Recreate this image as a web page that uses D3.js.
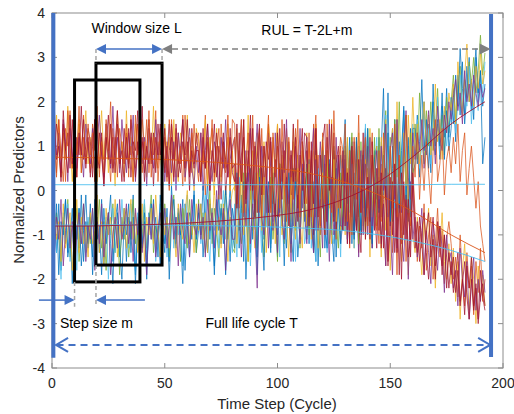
<!DOCTYPE html>
<html><head><meta charset="utf-8">
<script src="https://cdn.jsdelivr.net/npm/d3@7"></script>
<style>body{margin:0;background:#fff}svg{display:block;font-family:"Liberation Sans",Arial,sans-serif}</style>
</head><body><svg id="c" width="514" height="414"></svg>
<script>
const xTicks=[0,50,100,150,200];
const yTicks=[-4,-3,-2,-1,0,1,2,3,4];
const colors={blue:"#0072BD",orange:"#D95319",yellow:"#EDB120",purple:"#7E2F8E",green:"#77AC30",cyan:"#4DBEEE",darkred:"#A2142F"};
const serA=[-0.5,-1.4,-0.3,-1.8,-0.9,-0.2,-1.5,-1.1,-0.4,-2.0,-0.8,-1.3,-0.1,-1.6,-0.7,-1.2,
-0.3,-1.9,-1.0,-0.6,-1.4,-0.2,-1.7,-0.9,-0.5,-1.2,-2.1,-0.7,-0.3,-1.5,-1.0,-0.4,
-1.6,-0.6,-1.1,-0.1,-1.8,-0.9,-0.4,-1.3,-0.7,-2.0,-0.5,-1.0,-0.2,-1.4,-0.8,-1.7,
-0.3,-1.2,-0.6,-1.6,0.1,-0.9,-1.3,-0.4,-1.0,-0.2,-1.8,-0.7,-0.5,-1.1,0.0,-1.4,
-0.9,-0.3,-1.5,-0.6,0.2,-1.1,-0.4,-1.7,-0.8,-0.1,-1.2,-0.5,-1.9,-0.7,0.1,-1.0,
-1.3,0.3,-0.9,-0.1,-1.6,0.4,-0.7,-1.4,0.1,-0.5,-1.9,-0.2,0.5,-1.1,-0.6,0.2,
-1.2,0.4,-0.3,-1.5,0.6,-0.8,-0.1,-1.3,0.3,-0.9,-1.6,0.5,-0.4,-1.1,0.2,-0.7,
0.6,-1.2,0.2,-0.9,-1.6,0.4,-0.5,0.9,-1.3,-0.2,0.7,-1.0,0.3,-1.5,-0.1,0.8,
-0.9,0.7,-0.3,1.2,-1.2,0.4,-0.6,1.0,-1.0,0.2,1.4,-0.8,0.5,-1.3,0.9,-0.2,
1.2,-0.6,0.8,-0.2,2.2,-0.8,0.5,1.6,-0.5,1.1,-0.1,1.8,0.2,-0.7,1.4,0.4,
0.6,1.7,0.3,1.3,2.0,0.8,1.5,0.4,2.4,1.0,1.6,0.7,1.9,1.2,2.3,0.9,
1.4,2.3,1.1,2.6,1.7,2.9,1.5,2.2,3.0,1.8,2.5,3.2,2.0,2.7,1.9,2.4];
const serB=[1.3,0.4,1.6,0.8,0.2,1.4,1.0,1.8,0.5,1.2,0.3,1.5,0.9,1.7,0.6,1.1,
0.4,1.5,0.9,1.9,0.3,1.2,0.7,1.6,1.0,0.2,1.4,0.8,1.8,0.5,1.1,0.6,
1.3,0.3,1.7,0.9,0.5,1.5,0.1,1.1,0.7,1.6,0.4,1.2,0.8,1.8,0.2,1.0,
1.4,0.5,1.1,0.0,1.6,0.8,0.3,1.3,0.6,1.7,0.2,0.9,1.2,0.4,1.5,0.7,
0.2,1.3,0.6,1.7,0.1,0.9,1.4,0.3,1.0,-0.2,1.5,0.7,0.4,1.2,0.0,1.6,
1.5,-0.3,0.9,0.2,1.6,-0.5,0.7,1.3,-0.2,1.1,0.4,-0.6,1.4,0.0,0.8,1.7,
-0.4,1.2,0.3,1.5,-0.6,0.8,-0.1,1.4,0.5,-0.7,1.1,0.2,1.6,-0.3,0.9,0.1,
-0.8,1.1,0.0,1.5,-0.6,0.8,-1.0,1.3,0.2,-0.7,1.6,-0.3,0.9,-1.1,0.5,1.2,
0.9,-0.9,0.5,-1.3,1.2,-0.2,0.7,-1.4,0.3,-0.8,1.3,-0.5,0.1,-1.2,0.8,-0.4,
-1.2,0.6,-0.8,-1.7,0.4,-0.3,-1.4,0.3,-1.9,0.7,-0.9,0.1,-1.6,-0.5,-1.1,0.5,
-0.5,-1.6,-0.8,-1.3,-0.3,-1.8,-1.0,-0.6,-2.0,-1.2,-0.4,-1.5,-0.9,-2.1,-1.1,-0.7,
-1.2,-2.0,-1.5,-2.4,-1.0,-1.9,-2.6,-1.4,-2.2,-1.7,-2.8,-1.6,-2.3,-1.3,-2.5,-2.0];
const serC=[0.5,1.7,0.9,0.3,1.4,0.7,1.9,1.1,0.2,1.3,0.8,1.6,0.4,1.0,1.8,0.6,
1.2,0.5,1.6,0.2,1.0,1.8,0.7,1.3,0.4,1.5,0.9,0.1,1.7,0.6,1.1,0.3,
1.8,0.6,1.2,0.2,1.5,0.9,0.4,1.6,1.0,0.3,1.4,0.7,1.9,0.5,1.1,0.8,
0.3,1.5,0.8,1.2,0.1,1.6,0.6,0.2,1.3,0.9,0.4,1.7,0.5,1.0,0.0,1.4,
1.1,0.3,0.8,1.6,0.1,1.2,0.5,-0.1,1.4,0.7,0.2,1.0,0.6,1.5,0.0,0.9,
0.0,1.4,0.6,-0.5,1.2,0.3,1.7,-0.2,0.9,-0.6,1.3,0.5,-0.3,1.1,0.1,1.5,
1.0,-0.5,0.7,1.5,-0.2,0.9,-0.7,1.2,0.3,-0.4,1.4,0.0,0.8,-0.6,1.1,0.4,
1.3,-0.6,0.7,-1.0,1.5,-0.2,0.5,1.2,-0.9,0.9,-0.4,1.6,-0.7,0.8,0.1,-1.1,
0.6,-1.0,1.1,-0.4,0.3,-1.3,1.2,-0.6,0.0,0.9,-1.1,0.5,-1.5,0.8,-0.3,0.2,
-0.1,-1.5,0.5,-0.9,-0.2,-1.8,-0.6,0.6,-1.2,0.2,-1.6,-0.8,0.3,-1.9,-0.4,-1.0,
-1.4,-0.6,-1.2,-1.9,-0.7,-1.1,-0.4,-1.7,-1.0,-2.2,-0.8,-1.3,-0.5,-1.6,-2.0,-1.2,
-2.1,-1.3,-2.5,-1.6,-2.9,-1.8,-1.2,-2.3,-2.7,-1.5,-2.0,-3.0,-1.7,-2.4,-1.9,-2.6];
const serD=[1.9,0.8,1.3,0.4,1.6,1.1,0.2,1.4,0.7,1.8,0.5,1.2,0.9,0.3,1.5,1.0,
0.6,1.4,0.2,1.1,1.7,0.8,0.3,1.5,1.0,0.5,1.9,0.7,1.2,0.4,1.6,0.9,
0.4,1.3,0.8,1.7,0.2,1.0,1.5,0.6,1.2,0.1,1.4,0.9,0.5,1.6,0.7,1.1,
1.2,0.2,0.9,1.5,0.4,1.1,0.0,1.3,0.7,1.6,0.3,0.8,1.4,0.5,0.1,1.0,
0.4,1.3,0.0,0.9,1.5,0.6,0.2,1.1,0.8,-0.1,1.2,0.5,1.6,0.3,0.7,1.0,
1.2,-0.2,0.6,1.6,-0.6,0.9,0.2,1.4,-0.4,0.7,1.5,-0.1,1.0,0.3,-0.5,1.3,
0.5,-0.7,1.3,0.1,-0.5,1.1,0.4,1.6,-0.3,0.8,-0.8,1.0,0.2,1.4,-0.4,0.6,
1.2,-0.7,0.6,1.4,-0.9,0.2,1.1,-0.4,0.8,-1.0,1.5,0.0,-0.6,1.2,-0.2,-1.2,
-0.7,0.9,-1.2,0.4,1.1,-0.9,0.2,-1.5,0.7,-0.4,1.3,-1.0,0.5,-1.3,0.3,-0.6,
0.5,-1.2,-0.3,-1.7,0.3,-0.9,-1.9,0.1,-1.3,0.6,-1.0,-1.6,-0.2,-2.0,0.2,-1.1,
-0.6,-1.5,-1.1,-0.4,-1.9,-0.9,-1.4,-2.1,-0.7,-1.2,-1.8,-0.8,-1.3,-2.3,-1.0,-1.6,
-1.4,-2.2,-1.8,-2.6,-1.3,-2.0,-2.4,-1.6,-2.9,-2.1,-1.5,-2.7,-2.0,-2.5,-1.8,-2.3];
const serE=[-1.3,-0.5,-1.0,-1.7,-0.6,-1.2,-0.2,-1.5,-0.8,-1.1,-0.4,-1.6,-0.9,-0.3,-1.4,-0.7,
-1.2,-0.4,-1.6,-0.9,-0.2,-1.3,-0.7,-1.8,-0.5,-1.0,-0.3,-1.4,-0.8,-1.9,-0.6,-1.1,
-0.4,-1.5,-0.9,-0.2,-1.2,-0.6,-1.7,-1.0,-0.3,-1.3,-0.7,-0.1,-1.4,-0.8,-1.1,-0.5,
-1.2,-0.3,-0.9,-1.5,-0.5,-0.1,-1.1,-0.6,-1.6,-0.4,-0.8,-1.3,-0.2,-1.0,-0.7,-1.4,
-0.2,-1.0,-0.5,-1.4,-0.8,0.0,-1.2,-0.4,-0.9,-1.5,-0.3,-0.7,0.1,-1.1,-0.6,-1.3,
-1.4,0.2,-0.7,-1.2,0.4,-0.3,-1.6,0.1,-0.9,-0.2,-1.3,0.5,-0.6,-1.5,0.0,-0.8,
0.3,-1.1,-0.4,-1.6,0.6,-0.7,-1.2,0.2,-0.5,-1.4,0.5,-0.9,-0.1,-1.3,0.4,-0.6,
0.5,-1.0,0.1,-1.4,0.9,-0.6,-1.5,0.3,-0.8,0.7,-1.2,-0.2,1.0,-0.7,-1.3,0.4,
-0.6,1.0,-1.1,0.5,1.3,-0.7,0.6,-1.2,1.1,-0.1,-0.9,1.4,0.2,-0.5,1.2,-0.8,
1.4,-0.4,0.9,1.8,-0.2,1.2,-0.7,1.6,0.3,2.0,-0.3,0.8,1.7,-0.5,1.3,0.4,
1.5,0.7,2.2,1.2,0.6,1.8,1.0,2.0,0.9,1.4,2.3,1.1,1.7,0.8,2.1,1.3,
2.0,2.6,1.6,2.3,2.8,1.8,2.5,2.1,2.9,2.4,3.0,2.2,2.7,3.5,2.6,3.1];
const serF=[-0.6,-1.4,-0.9,-2.0,-0.5,-1.1,-0.3,-1.6,-1.0,-0.7,-1.8,-0.4,-1.2,-0.8,-1.5,-0.6,
-1.0,-0.5,-1.7,-0.8,-1.3,-0.3,-1.1,-0.6,-2.0,-0.9,-0.4,-1.4,-0.7,-1.2,-0.2,-1.0,
-0.6,-1.3,-0.3,-1.0,-1.9,-0.5,-1.2,-0.8,-0.2,-1.5,-0.7,-1.1,-0.4,-1.6,-0.9,-0.3,
-1.1,-0.5,-1.5,-0.8,-0.2,-1.3,-0.6,-1.0,-0.4,-1.7,-0.9,-0.1,-1.2,-0.7,-0.3,-1.1,
-0.4,-1.2,-0.7,-0.1,-1.0,-1.6,-0.5,-0.9,-0.3,-1.3,-0.6,0.0,-1.1,-0.4,-0.8,-1.4,
-0.3,-1.5,0.3,-0.9,-1.2,0.1,-0.6,-1.7,-0.2,0.4,-1.0,-0.5,-1.4,0.2,-0.8,-0.1,
-1.3,0.2,-0.8,-0.2,-1.5,0.5,-0.6,-1.1,0.3,-0.9,-0.3,-1.6,0.1,-0.7,0.4,-1.2,
-0.9,0.6,-1.3,0.2,-1.6,0.5,-0.7,0.9,-0.4,-1.4,0.4,-0.8,-1.2,0.7,-0.3,-1.5,
0.7,-0.9,1.2,-0.5,0.6,-1.3,0.3,1.0,-1.0,0.2,1.5,-0.6,0.8,-1.1,0.4,1.2,
-0.3,1.1,-0.1,1.7,-0.6,0.9,1.4,-0.4,1.2,-0.5,0.6,1.8,-0.1,1.0,-0.6,1.5,
0.8,1.6,0.5,1.2,1.9,0.9,1.4,0.6,1.7,1.1,2.1,0.8,1.3,1.8,1.0,1.5,
1.6,2.2,1.3,2.0,2.6,1.7,2.3,1.9,2.8,1.5,2.4,2.1,1.8,2.6,2.2,2.9];
const serG=[0.6,1.5,1.1,0.3,1.8,0.9,1.3,0.5,1.6,0.2,1.2,0.8,1.9,0.7,1.0,1.4,
1.1,0.3,1.6,0.8,0.5,1.3,0.1,1.0,1.7,0.6,1.2,0.4,1.5,0.9,0.2,1.4,
0.7,1.4,0.3,1.1,0.9,1.8,0.5,1.2,0.2,1.0,1.6,0.6,1.3,0.4,1.5,0.8,
1.3,0.4,1.0,0.1,1.5,0.7,1.2,0.3,0.9,1.6,0.5,1.1,0.0,1.4,0.6,0.9,
0.9,0.2,1.4,0.5,1.1,0.0,0.8,1.5,0.3,1.0,0.6,1.3,-0.1,0.7,1.2,0.4,
0.2,1.5,-0.4,0.8,1.2,-0.2,0.6,1.7,0.0,1.0,-0.5,1.3,0.4,-0.1,1.1,0.7,
1.2,-0.3,0.7,-0.6,1.4,0.2,0.9,-0.5,1.1,-0.1,1.5,0.3,-0.7,0.8,0.0,1.3,
1.2,-0.6,0.9,-1.0,1.4,-0.1,-0.8,1.1,1.5,-0.7,0.6,-0.4,1.3,-0.9,0.8,-0.2,
-0.9,0.7,-1.2,0.9,-0.2,-1.0,1.1,-0.6,-1.4,0.6,-0.7,1.0,-1.1,0.8,-0.3,-1.3,
0.3,-1.3,-0.2,0.5,-1.6,-0.8,0.2,-1.4,-0.3,-1.9,0.4,-1.0,-0.1,-1.5,-1.1,0.1,
-1.3,-0.7,-1.6,-0.9,-0.5,-1.4,-2.0,-1.1,-0.6,-1.7,-1.2,-0.8,-1.9,-1.0,-1.5,-2.2,
-1.6,-2.3,-1.9,-1.4,-2.5,-2.0,-2.8,-1.7,-2.2,-1.5,-2.6,-2.1,-2.9,-1.8,-2.4,-2.7];
const serH=[-1.2,-0.3,-1.9,-0.7,-1.0,-0.2,-1.4,-0.8,-2.1,-0.5,-1.1,-0.4,-1.7,-0.9,-0.1,-1.3,
-0.6,-1.5,-0.2,-1.1,-0.8,-1.9,-0.4,-1.2,-0.7,-0.1,-1.6,-0.9,-0.5,-1.3,-2.0,-0.7,
-1.0,-0.3,-1.4,-0.6,-2.1,-0.9,-0.2,-1.2,-0.5,-1.7,-0.8,-0.3,-1.1,-0.6,-1.5,-0.1,
-0.9,-1.4,-0.4,-2.0,-0.7,-0.2,-1.2,-0.5,-1.0,-2.1,-0.3,-0.8,-1.5,-0.6,-0.1,-1.1,
-0.5,-1.0,0.1,-0.8,-1.4,-0.3,-0.7,-1.9,-0.2,-0.9,-0.4,-1.2,0.0,-0.6,-1.6,-0.4,
-0.8,0.4,-1.3,-0.4,0.2,-2.0,-0.6,0.5,-1.1,-0.2,-1.5,0.3,-0.9,-1.8,0.1,-0.5,
-1.4,0.3,-0.6,-1.0,0.6,-0.3,-1.7,-0.1,0.4,-1.2,-0.5,0.2,-1.5,-0.8,0.5,-0.2,
-1.1,0.7,-0.5,-1.4,0.4,-1.7,-0.2,0.9,-0.8,-1.3,0.6,-0.9,-1.6,0.5,-0.4,-1.2,
0.6,1.6,-0.8,0.9,-0.2,-1.1,1.2,0.0,-0.9,0.8,-0.6,1.4,-0.3,-1.2,0.7,1.0,
-0.5,0.9,2.3,-0.1,1.3,-0.7,1.0,0.1,1.6,-0.4,0.9,1.9,-0.2,1.2,-0.6,1.4,
1.4,0.6,1.1,2.5,0.9,1.6,0.5,1.3,2.0,0.8,1.5,1.0,2.2,0.7,1.8,1.2,
2.1,1.5,2.6,1.9,3.2,2.3,1.7,2.8,2.0,2.5,1.6,3.0,2.2,2.7,0.6,1.2];
const serI=[-0.4,-1.1,-0.7,-1.6,-0.3,-1.3,-0.9,-0.5,-1.8,-1.0,-0.2,-1.4,-0.6,-1.2,-0.8,-1.5,
-0.5,-1.2,-0.9,-0.1,-1.4,-0.7,-1.7,-0.4,-1.0,-0.6,-1.3,-0.2,-1.5,-0.8,-1.1,-0.4,
-1.3,-0.7,-0.2,-1.1,-0.5,-1.4,-0.9,-0.3,-1.6,-0.6,-1.0,-0.4,-1.2,-0.1,-0.9,-1.5,
-0.4,-1.0,-0.6,-1.3,-0.2,-0.9,-1.5,-0.3,-0.8,-1.1,-0.5,0.0,-1.2,-0.7,-1.4,-0.3,
-0.9,-0.3,-1.1,-0.5,-1.4,-0.2,-0.8,0.1,-1.0,-0.6,-1.3,-0.3,-0.7,-1.6,-0.4,0.0,
0.1,-1.2,-0.4,0.5,-1.0,-0.3,-1.6,0.2,-0.7,-1.3,0.4,-0.1,-0.9,0.3,-1.4,-0.5,
-0.8,0.5,-1.2,-0.2,0.6,-1.0,0.1,-0.6,-1.5,0.3,-0.4,-1.1,0.5,-0.7,-1.3,0.2,
-0.8,0.6,-1.1,-0.3,0.8,-1.3,-0.5,0.4,-1.0,0.9,-0.2,-1.2,0.7,-0.7,0.3,-0.9,
0.5,-0.7,1.2,-1.0,0.0,0.9,-0.8,1.3,-0.2,-0.9,0.7,-0.4,1.4,-0.6,0.4,1.0,
-0.2,1.2,0.2,1.6,-0.5,0.9,1.4,-0.1,2.0,0.4,-0.4,1.3,0.1,1.7,0.6,2.1,
0.9,1.5,0.6,1.3,2.0,1.0,1.7,0.8,1.2,2.4,1.1,1.6,0.7,1.9,1.3,2.2,
1.8,2.4,1.5,2.9,2.1,1.7,2.6,3.3,2.0,2.5,1.9,2.8,2.3,3.1,2.4,2.7];
const serJ=[-1.5,-0.6,-1.1,-0.2,-1.7,-0.9,-0.4,-1.3,-0.7,-1.9,-1.0,-0.5,-1.2,-0.3,-1.6,-0.8,
-1.1,-0.4,-1.8,-0.7,-1.2,-0.3,-1.5,-0.9,-0.5,-1.9,-1.0,-0.6,-1.3,-0.2,-1.1,-0.8,
-0.3,-1.2,-0.7,-1.6,-0.4,-1.0,-0.2,-1.4,-0.8,-1.9,-0.6,-1.1,-0.3,-1.5,-0.9,-0.5,
-1.0,-0.4,-1.3,-0.8,-0.1,-1.1,-0.6,-1.7,-0.3,-0.9,-1.2,-0.5,-1.5,-0.2,-0.8,-1.0,
-0.3,-1.1,-0.6,-1.5,-0.2,-0.9,-0.5,-1.3,0.0,-0.7,-1.0,-0.4,-1.8,-0.6,-0.2,-1.1,
-1.1,0.3,-0.5,-1.5,0.0,-0.8,0.4,-1.2,-0.3,-0.9,-2.2,0.2,-0.6,-1.0,0.5,-1.3,
0.1,-0.9,-0.3,-1.4,0.5,-0.6,-1.1,0.3,-0.2,-1.6,0.4,-0.8,-0.1,-1.2,0.6,-0.5,
-1.2,0.4,-0.7,-1.4,0.7,-0.9,-0.2,-1.3,0.6,-0.5,-1.6,0.3,-1.0,-0.3,0.8,-0.8,
-0.8,0.8,-1.1,0.5,-0.6,1.1,-0.9,0.3,0.9,-1.0,0.6,-0.4,1.2,-0.8,0.2,0.9,
-0.4,1.0,0.0,1.5,-0.6,0.9,1.3,-0.2,1.6,0.2,-0.5,1.1,1.8,0.3,-0.2,1.3,
0.7,1.3,0.9,1.6,0.5,1.1,1.8,1.0,1.4,0.6,1.9,1.2,0.9,1.7,1.3,2.0,
1.6,2.1,2.5,1.8,2.2,1.5,2.7,2.0,2.4,1.9,2.6,2.2,1.9,2.4,2.1,2.3];
const serK=[1.1,0.3,1.6,0.7,1.3,0.2,1.8,0.9,0.5,1.4,0.8,1.9,0.4,1.2,0.6,1.5,
0.8,1.3,0.2,1.7,0.6,1.1,0.4,1.5,0.9,2.0,0.5,1.2,0.3,1.4,1.0,0.6,
1.5,0.6,1.0,0.2,1.7,0.8,1.3,0.4,1.1,0.7,1.8,0.3,1.2,0.9,0.5,1.4,
0.5,1.2,0.2,1.6,0.9,0.3,1.4,0.6,1.0,0.1,1.7,0.8,0.4,1.3,0.7,1.1,
1.3,0.4,0.9,-0.1,1.2,0.7,1.6,0.2,0.8,1.4,0.3,1.0,0.5,1.7,0.1,0.9,
1.2,-0.3,0.8,1.6,-0.5,0.6,1.3,0.0,1.7,-0.2,0.9,1.4,-0.6,1.0,0.3,1.5,
-0.5,1.3,0.4,1.0,-0.4,1.6,0.1,-0.7,1.2,0.5,-0.2,1.4,0.7,-0.6,1.1,0.3,
-0.3,1.3,-0.6,0.9,1.7,-0.1,-0.8,1.1,-0.3,1.5,0.2,-0.5,1.8,0.3,-0.4,1.0,
0.1,1.5,-0.7,0.9,-1.0,1.2,-0.2,1.7,-0.5,0.7,1.2,-0.8,0.5,1.3,-0.4,-0.9,
0.9,-0.7,1.3,-0.1,-1.0,1.0,-0.4,1.5,-0.6,0.8,-1.2,0.5,1.7,-0.2,-0.8,1.0,
0.3,1.3,-0.2,0.8,0.0,1.1,0.4,-0.3,0.9,1.6,0.2,0.6,1.4,-0.1,0.7,1.0,
0.4,1.2,0.6,1.5,0.2,0.9,1.3,-0.1,0.5,1.0,0.3,-0.4,0.2,-0.8,-1.2,-1.6];
const serL=[1.4,0.7,1.0,0.2,1.5,0.9,0.4,1.7,0.6,1.1,0.3,1.3,0.8,1.6,0.5,1.2,
0.3,1.0,1.6,0.5,1.3,0.8,0.1,1.2,0.7,1.5,0.4,1.0,1.8,0.6,0.9,0.2,
1.2,0.5,1.6,0.9,0.3,1.1,0.7,1.9,0.4,1.0,0.6,1.3,0.1,1.2,0.8,1.5,
0.6,1.4,0.3,0.9,1.2,0.2,1.5,0.7,0.4,1.1,0.8,1.6,0.3,0.9,0.5,1.3,
0.8,0.2,1.2,0.5,1.5,0.0,0.9,0.4,1.3,0.6,-0.2,1.1,0.7,0.3,1.4,0.5,
0.6,-0.4,1.3,0.2,1.6,-0.3,0.9,0.1,1.4,-0.6,0.7,1.5,-0.1,1.0,0.4,-0.5,
1.1,0.0,-0.6,1.3,0.4,-0.2,1.5,0.3,-0.8,0.9,0.2,1.2,-0.4,0.7,1.4,-0.3,
0.9,-0.8,1.1,-0.3,1.4,-0.6,0.8,-0.1,-1.0,1.2,0.0,1.5,-0.7,0.6,1.0,-0.4,
0.9,-0.8,0.4,-1.2,1.0,-0.3,-0.9,0.7,-0.5,1.3,-1.1,0.3,-0.7,1.1,-0.9,0.5,
-0.9,0.4,-1.3,0.1,-1.7,0.3,-1.0,0.6,-1.4,-0.3,-2.0,0.2,-1.1,-0.2,-1.5,0.4,
-0.8,-1.4,-0.6,-1.2,-1.9,-0.9,-0.5,-1.5,-1.1,-2.0,-0.7,-1.3,-1.7,-1.0,-2.2,-1.4,
-1.9,-1.5,-2.3,-1.8,-2.6,-2.1,-1.6,-2.4,-2.9,-2.0,-2.7,-2.2,-3.0,-2.4,-2.1,-2.6];
const smoothX=[1,17,33,49,65,81,97,113,129,145,161,177,192];
const smoothCyanFlat=[0.13,0.13,0.13,0.13,0.13,0.13,0.13,0.13,0.13,0.13,0.13,0.14,0.14];
const smoothCyanLow=[-0.78,-0.78,-0.77,-0.78,-0.79,-0.8,-0.82,-0.85,-0.9,-1.0,-1.15,-1.35,-1.6];
const smoothRed=[-0.8,-0.8,-0.78,-0.76,-0.72,-0.66,-0.58,-0.45,-0.2,0.2,0.8,1.5,2.0];
const smoothOrange=[0.75,0.74,0.72,0.7,0.66,0.6,0.52,0.4,0.2,-0.1,-0.5,-1.0,-1.4];

const noisy=[[serA,"blue"],[serB,"orange"],[serC,"yellow"],[serD,"purple"],[serE,"green"],[serF,"cyan"],[serG,"darkred"],[serH,"blue"],[serI,"yellow"],[serJ,"purple"],[serK,"orange"],[serL,"darkred"]];
const smooth=[[smoothCyanFlat,"cyan"],[smoothCyanLow,"cyan"],[smoothRed,"darkred"],[smoothOrange,"orange"]];

const svg=d3.select("#c");
const x=d3.scaleLinear().domain([0,200]).range([52,503]);
const y=d3.scaleLinear().domain([-4,4]).range([368,13]);
const axisCol="#8c8c8c", textCol="#262626", annBlue="#4472C4", annGray="#7F7F7F", dashGray="#A6A6A6";

svg.append("rect").attr("x",x(0)).attr("y",y(4)).attr("width",x(200)-x(0)).attr("height",y(-4)-y(4)).attr("fill","none").attr("stroke",axisCol).attr("stroke-width",1);
xTicks.forEach(t=>{
  svg.append("line").attr("x1",x(t)).attr("x2",x(t)).attr("y1",y(-4)).attr("y2",y(-4)-5).attr("stroke",axisCol);
  svg.append("line").attr("x1",x(t)).attr("x2",x(t)).attr("y1",y(4)).attr("y2",y(4)+5).attr("stroke",axisCol);
  svg.append("text").attr("x",x(t)).attr("y",y(-4)+20).attr("text-anchor","middle").attr("font-size",14).attr("fill",textCol).text(t);
});
yTicks.forEach(t=>{
  svg.append("line").attr("x1",x(0)).attr("x2",x(0)+5).attr("y1",y(t)).attr("y2",y(t)).attr("stroke",axisCol);
  svg.append("line").attr("x1",x(200)).attr("x2",x(200)-5).attr("y1",y(t)).attr("y2",y(t)).attr("stroke",axisCol);
  svg.append("text").attr("x",x(0)-7).attr("y",y(t)+5).attr("text-anchor","end").attr("font-size",14).attr("fill",textCol).text(t);
});
svg.append("text").attr("x",277).attr("y",409).attr("text-anchor","middle").attr("font-size",15).attr("fill",textCol).text("Time Step (Cycle)");
svg.append("text").attr("transform","translate(24,190) rotate(-90)").attr("text-anchor","middle").attr("font-size",15).attr("fill",textCol).text("Normalized Predictors");

const line=d3.line().x(d=>x(d[0])).y(d=>y(d[1]));
const g=svg.append("g");
noisy.forEach(([arr,c])=>{
  g.append("path").attr("d",line(arr.map((v,i)=>[i+1,v]))).attr("fill","none").attr("stroke",colors[c]).attr("stroke-width",0.75).attr("stroke-linejoin","round");
});
smooth.forEach(([arr,c])=>{
  g.append("path").attr("d",d3.line().curve(d3.curveMonotoneX).x(d=>x(d[0])).y(d=>y(d[1]))(arr.map((v,i)=>[smoothX[i],v]))).attr("fill","none").attr("stroke",colors[c]).attr("stroke-width",0.9);
});

const ann=svg.append("g");
function tri(px,py,dir,col,len=10,half=5){
  const p=[[px,py],[px-dir*len,py-half],[px-dir*len,py+half]];
  ann.append("path").attr("d","M"+p.map(q=>q.join(",")).join("L")+"Z").attr("fill",col);
}
function chev(px,py,dir,col){
  ann.append("path").attr("d",`M${px-dir*12},${py-7}L${px},${py}L${px-dir*12},${py+7}`).attr("fill","none").attr("stroke",col).attr("stroke-width",2);
}
ann.append("line").attr("x1",x(0.6)).attr("x2",x(0.6)).attr("y1",y(4)).attr("y2",y(-3.77)).attr("stroke",annBlue).attr("stroke-width",4);
ann.append("line").attr("x1",x(194.7)).attr("x2",x(194.7)).attr("y1",y(3.98)).attr("y2",y(-3.75)).attr("stroke",annBlue).attr("stroke-width",4);
const rects=[[10,39,-2.06,2.49],[19.5,48.8,-1.68,2.87]];
rects.forEach(r=>{
  ann.append("rect").attr("x",x(r[0])).attr("y",y(r[3])).attr("width",x(r[1])-x(r[0])).attr("height",y(r[2])-y(r[3])).attr("fill","none").attr("stroke","#000").attr("stroke-width",3);
});
[[19.5,3.19,2.87],[48.8,3.19,2.87],[10,-2.06,-2.62],[19.5,-1.68,-2.62]].forEach(d=>{
  ann.append("line").attr("x1",x(d[0])).attr("x2",x(d[0])).attr("y1",y(d[1])).attr("y2",y(d[2])).attr("stroke",dashGray).attr("stroke-width",1.5).attr("stroke-dasharray","4,3");
});
ann.append("line").attr("x1",x(19.5)+8).attr("x2",x(48.8)-8).attr("y1",y(3.19)).attr("y2",y(3.19)).attr("stroke",annBlue).attr("stroke-width",1.5);
tri(x(19.5),y(3.19),-1,annBlue);
tri(x(48.8),y(3.19),1,annBlue);
ann.append("line").attr("x1",x(48.8)+10).attr("x2",x(194.5)-10).attr("y1",y(3.19)).attr("y2",y(3.19)).attr("stroke",annGray).attr("stroke-width",1.5).attr("stroke-dasharray","6,4");
tri(x(48.8),y(3.19),-1,annGray);
tri(x(194.5),y(3.19),1,annGray,11,5.5);
ann.append("line").attr("x1",x(-5.8)).attr("x2",x(10)-8).attr("y1",y(-2.47)).attr("y2",y(-2.47)).attr("stroke",annBlue).attr("stroke-width",1.5);
tri(x(10),y(-2.47),1,annBlue);
ann.append("line").attr("x1",x(41.2)).attr("x2",x(19.5)+8).attr("y1",y(-2.47)).attr("y2",y(-2.47)).attr("stroke",annBlue).attr("stroke-width",1.5);
tri(x(19.5),y(-2.47),-1,annBlue);
ann.append("line").attr("x1",x(2)).attr("x2",x(194.3)).attr("y1",y(-3.48)).attr("y2",y(-3.48)).attr("stroke",annBlue).attr("stroke-width",2).attr("stroke-dasharray","7,5");
chev(x(1.8),y(-3.48),-1,annBlue);
chev(x(194.3),y(-3.48),1,annBlue);
const tf=14;
ann.append("text").attr("x",x(37.5)).attr("y",y(3.55)).attr("text-anchor","middle").attr("font-size",tf).attr("fill","#000").text("Window size L");
ann.append("text").attr("x",x(113)).attr("y",y(3.5)).attr("text-anchor","middle").attr("font-size",tf).attr("fill","#000").text("RUL = T-2L+m");
ann.append("text").attr("x",x(3.5)).attr("y",y(-3.1)).attr("text-anchor","start").attr("font-size",tf).attr("fill","#000").text("Step size m");
ann.append("text").attr("x",x(88.5)).attr("y",y(-3.1)).attr("text-anchor","middle").attr("font-size",tf).attr("fill","#000").text("Full life cycle T");
</script></body></html>
